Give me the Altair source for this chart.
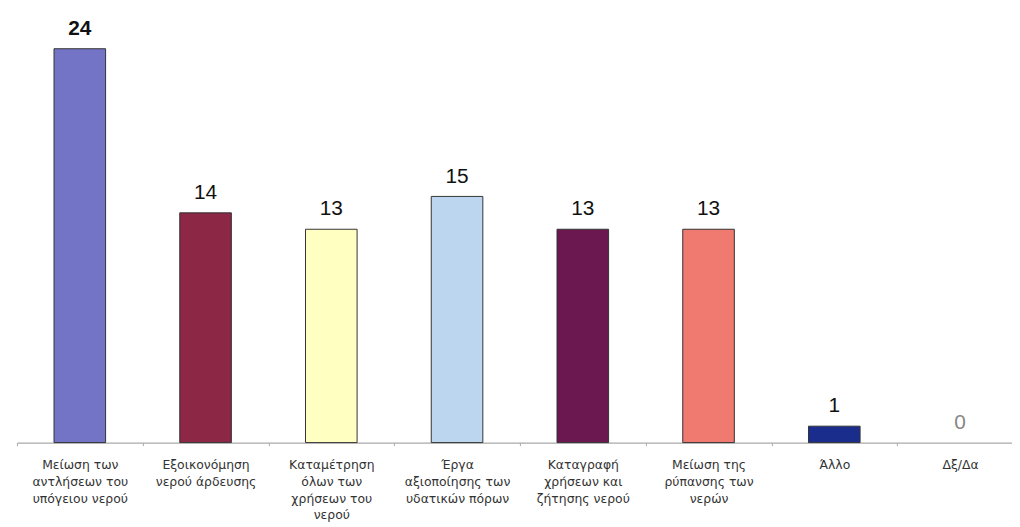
import altair as alt
import pandas as pd

categories = [
    "Μείωση των|αντλήσεων του|υπόγειου νερού",
    "Εξοικονόμηση|νερού άρδευσης",
    "Καταμέτρηση|όλων των|χρήσεων του|νερού",
    "Έργα|αξιοποίησης των|υδατικών πόρων",
    "Καταγραφή|χρήσεων και|ζήτησης νερού",
    "Μείωση της|ρύπανσης των|νερών",
    "Άλλο",
    "Δξ/Δα",
]
values = [24, 14, 13, 15, 13, 13, 1, 0]
colors = ["#7474c6", "#8c2846", "#ffffc2", "#bdd6f0", "#6b1750", "#f07a70", "#1b2d8c", "#ffffff"]

df = pd.DataFrame({"cat": categories, "value": values})

x = alt.X(
    "cat:N",
    sort=categories,
    title=None,
    scale=alt.Scale(range=[0, 1014], paddingInner=0, paddingOuter=0),
    axis=alt.Axis(
        labelExpr="split(datum.label, '|')",
        labelAngle=0,
        labelFont="DejaVu Sans",
        labelFontSize=12.5,
        labelColor="#333333",
        labelLineHeight=17,
        labelBaseline="top",
        labelPadding=13,
        labelOverlap=False,
        labelLimit=200,
        tickBand="extent",
        tickSize=3,
        tickColor="#aaaaaa",
        domainColor="#aaaaaa",
        domainWidth=1.2,
        grid=False,
    ),
)
y = alt.Y("value:Q", scale=alt.Scale(domain=[0, 24], nice=False), axis=None)

bars = alt.Chart(df).mark_bar(size=52, strokeWidth=1).encode(
    x=x,
    y=y,
    color=alt.Color("cat:N", sort=categories, scale=alt.Scale(domain=categories, range=colors), legend=None),
    stroke=alt.condition(alt.datum.value > 0, alt.value("#333333"), alt.value("transparent")),
)

labels = alt.Chart(df).transform_filter("datum.value < 20").mark_text(
    font="Liberation Sans", fontSize=21, baseline="alphabetic", dy=-14
).encode(
    x=x,
    y=y,
    text="value:Q",
    color=alt.condition(alt.datum.value == 0, alt.value("#888888"), alt.value("#111111")),
)

labels_bold = alt.Chart(df).transform_filter("datum.value >= 20").mark_text(
    font="Liberation Sans", fontSize=21, fontWeight="bold", baseline="alphabetic", dy=-14, color="#111111"
).encode(
    x=x,
    y=y,
    text="value:Q",
)

chart = (
    alt.layer(bars, labels, labels_bold)
    .properties(
        width=1003,
        height=397,
        padding={"left": 9, "top": 39, "right": 0, "bottom": 80},
        autosize=alt.AutoSizeParams(type="none"),
        background="white",
    )
    .configure_view(stroke=None)
)

chart.save("out.html", embed_options={"renderer": "svg", "actions": False})
